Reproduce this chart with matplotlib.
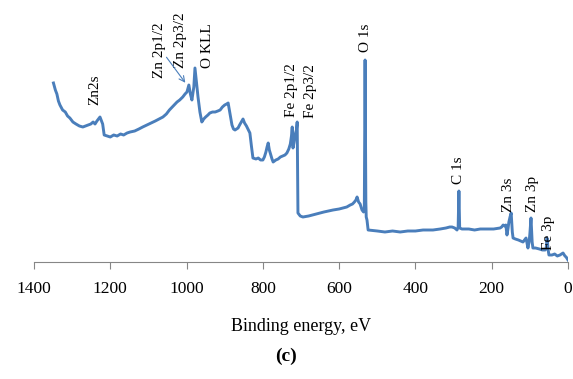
import matplotlib.pyplot as plt

# XPS survey spectrum (intensity in arbitrary units)
energy = [1349, 1344, 1340, 1336, 1332, 1325, 1318, 1312, 1306, 1298, 1290, 1281, 1272,
          1265, 1258, 1251, 1245, 1240, 1235, 1231, 1227, 1222, 1220, 1216, 1208, 1200,
          1191, 1182, 1173, 1165, 1156, 1148, 1136, 1125, 1115, 1104, 1093, 1082, 1072,
          1062, 1053, 1045, 1035, 1025, 1018, 1010, 1004, 999, 994, 990, 986, 981, 978,
          974, 970, 965, 960, 955, 950, 944, 939, 932, 925, 918, 912, 906, 900, 895, 891,
          886, 881, 877, 873, 869, 865, 861, 858, 855, 852, 848, 843, 838, 834, 830, 826,
          818, 812, 806, 800, 796, 792, 789, 786, 783, 780, 776, 773, 766, 760, 754, 748,
          742, 737, 732, 728, 725, 723, 721, 718, 715, 712, 710, 708, 702, 695, 680, 660,
          640, 616, 600, 590, 580, 571, 565, 560, 556, 553, 549, 545, 540, 536, 534, 532,
          530, 529, 527, 524, 500, 480, 460, 440, 420, 400, 380, 354, 335, 320, 310, 304,
          297, 291, 288, 286, 284, 278, 260, 245, 230, 210, 195, 178, 174, 170, 166, 163,
          160, 157, 155, 152, 149, 146, 144, 138, 130, 124, 118, 114, 110, 107, 105, 102,
          100, 97, 94, 92, 85, 75, 67, 60, 57, 55, 52, 50, 42, 35, 28, 21, 13, 8, 5, 0]
intensity = [179, 172, 168, 161, 157, 152, 150, 146, 144, 140, 138, 136, 135,
             136, 137, 138, 140, 138, 141, 143, 145, 140, 138, 127, 126, 125,
             127, 126, 128, 127, 129, 130, 131, 133, 135, 137, 139, 141, 143,
             145, 148, 152, 156, 160, 162, 165, 168, 170, 177, 168, 162, 175, 194,
             180, 165, 150, 140, 143, 145, 147, 149, 150, 150, 151, 152, 155, 157, 158, 159,
             148, 137, 133, 132, 133, 134, 137, 139, 141, 143, 139, 136, 132, 129, 116, 104,
             103, 104, 102, 102, 105, 110, 115, 119, 112, 108, 103, 100, 102, 103, 105, 106,
             107, 109, 113, 118, 126, 135, 114, 120, 128, 132, 140, 49, 46, 45, 46, 48,
             50, 52, 53, 54, 55, 57, 58, 60, 62, 65, 60, 58, 52, 50, 52, 202,
             60, 45, 42, 32, 31, 30, 31, 30, 31, 31, 32, 32, 33, 34, 35, 35,
             34, 32, 35, 71, 34, 33, 33, 32, 33, 33, 33, 34, 35, 37, 36, 37,
             27, 34, 40, 45, 49, 30, 24, 23, 22, 21, 20, 22, 24, 18, 14, 20,
             28, 44, 20, 14, 14, 13, 12, 12, 14, 24, 12, 7, 7, 8, 6, 7, 9, 6, 5, 2]

peak_labels = ["Zn2s", "Zn 2p1/2", "Zn 2p3/2", "O KLL", "Fe 2p1/2", "Fe 2p3/2",
               "O 1s", "C 1s", "Zn 3s", "Zn 3p", "Fe 3p"]
label_x = [1240, 1070, 1017, 946, 726, 674, 532, 288, 157, 94, 50]
label_y = [157, 184, 194, 194, 145, 144, 210, 78, 50, 50, 12]

LINE = "#4a7ebb"
AXIS = "#868686"

plt.rcParams["font.family"] = ["Liberation Serif", "DejaVu Serif"]

fig = plt.figure(figsize=(5.73, 3.79), dpi=100)
ax = fig.add_axes([34 / 573, 1 - 262 / 379, 534 / 573, 242 / 379])

ax.plot(energy, intensity, color=LINE, lw=2.1, solid_joinstyle="round")

ax.set_xlim(1400, 0)
ax.set_ylim(0, 242)
ax.set_xticks(range(0, 1401, 200))
ax.set_yticks([])
for s in ("left", "right", "top"):
    ax.spines[s].set_visible(False)
ax.spines["bottom"].set_color(AXIS)
ax.tick_params(axis="x", direction="out", length=5, color=AXIS,
               labelsize=12.5, pad=9)
ax.set_xlabel("Binding energy, eV", fontsize=13, labelpad=15)

for lab, x, y in zip(peak_labels, label_x, label_y):
    ax.text(x, y, lab, rotation=90, ha="center", va="bottom", fontsize=11)

ax.annotate("", xy=(999, 177), xytext=(1057, 207),
            arrowprops=dict(arrowstyle="->", color=LINE, lw=0.8))

fig.text(0.5, 1 - 356 / 379, "(c)", ha="center", va="center",
         fontsize=14, fontweight="bold")

fig.savefig("out.png", dpi=100)
